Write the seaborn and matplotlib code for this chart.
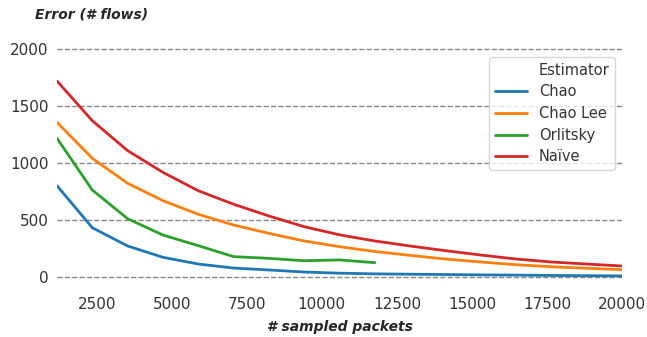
import numpy as np
import pandas as pd
import seaborn as sns
import matplotlib.pyplot as plt
from matplotlib.lines import Line2D

# sampled packets (x) and error per estimator
packets = [1176, 2353, 3529, 4706, 5882, 7059, 8235, 9412, 10588,
           11765, 12941, 14118, 15294, 16471, 17647, 18824, 20000]
chao = [802, 434, 274, 175, 116, 81, 64, 46, 36, 30, 27, 24, 21, 19, 16, 14, 12]
chao_lee = [1357, 1042, 823, 671, 552, 458, 385, 318, 268, 226, 192, 160, 134, 110, 93, 79, 67]
orlitsky = [1217, 764, 513, 370, 277, 181, 166, 145, 152, 128]
naive = [1719, 1371, 1109, 919, 758, 640, 537, 443, 372, 318, 274, 233, 195, 160, 134, 116, 99]

estimators = ['Chao', 'Chao Lee', 'Orlitsky', 'Naïve']
series = [chao, chao_lee, orlitsky, naive]

rows = []
for name, vals in zip(estimators, series):
    for x, y in zip(packets, vals):
        rows.append({'# sampled packets': x, 'Error (# flows)': y, 'Estimator': name})
df = pd.DataFrame(rows)

sns.set_theme(style='white')
plt.rcParams['font.family'] = ['DejaVu Sans']
plt.rcParams['text.color'] = '#333333'
plt.rcParams['xtick.color'] = '#333333'
plt.rcParams['ytick.color'] = '#333333'

fig = plt.figure(figsize=(6.47, 3.37), dpi=100)
ax = fig.add_axes([0.0881, 0.1433, 0.8733, 0.7454])

sns.lineplot(data=df, x='# sampled packets', y='Error (# flows)', hue='Estimator',
             hue_order=estimators, palette='tab10', linewidth=2, ax=ax)

ax.set_xlim(1176, 20000)
ax.set_ylim(-100, 2100)
ax.set_xticks([2500, 5000, 7500, 10000, 12500, 15000, 17500, 20000])
ax.set_yticks([0, 500, 1000, 1500, 2000])
ax.tick_params(axis='both', length=0, labelsize=11, pad=6)
ax.grid(axis='y', linestyle='--', color='#888888', linewidth=1)
ax.grid(axis='x', visible=False)
for s in ax.spines.values():
    s.set_visible(False)

ax.set_xlabel('# sampled packets', fontsize=10, fontweight='bold', fontstyle='italic',
              va='center')
ax.xaxis.set_label_coords(0.5, -0.152)
ax.set_ylabel('Error (# flows)', fontsize=10, fontweight='bold', fontstyle='italic',
              rotation=0, ha='left', va='center')
ax.yaxis.set_label_coords(-0.039, 1.09)

handles, labels = ax.get_legend_handles_labels()
blank = Line2D([], [], color='none')
ax.legend([blank] + handles, ['Estimator'] + labels, loc='upper right',
          bbox_to_anchor=(0.988, 0.922), borderaxespad=0, fontsize=10.5, frameon=True,
          edgecolor='#cccccc', handlelength=2.2, labelspacing=0.45)

fig.savefig('out.png', dpi=100)
